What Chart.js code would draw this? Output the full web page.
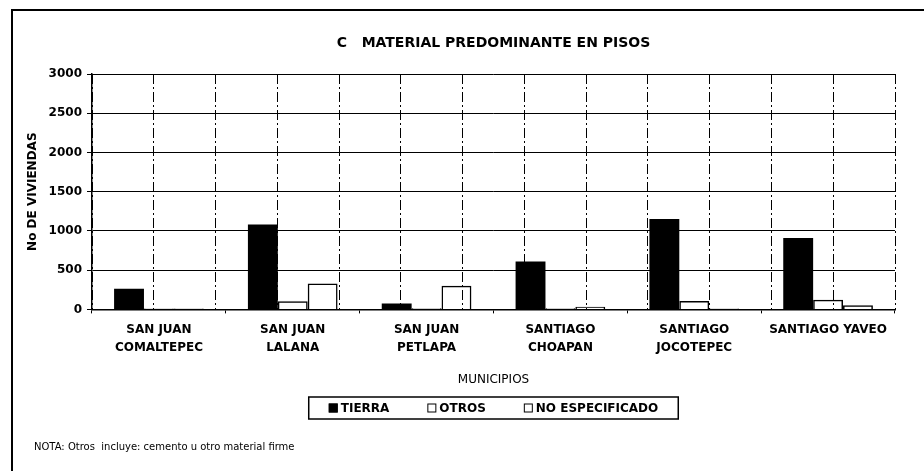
<!DOCTYPE html>
<html><head><meta charset="utf-8">
<script src="https://cdn.jsdelivr.net/npm/chart.js@4.4.1/dist/chart.umd.min.js"></script>
<style>html,body{margin:0;padding:0;background:#fff}#wrap{width:924px;height:471px;position:relative}</style>
</head><body><div id="wrap"><canvas id="c" width="924" height="471"></canvas></div>
<script>
const categories = [["SAN JUAN","COMALTEPEC"],["SAN JUAN","LALANA"],["SAN JUAN","PETLAPA"],["SANTIAGO","CHOAPAN"],["SANTIAGO","JOCOTEPEC"],["SANTIAGO YAVEO"]];
const tierra = [264, 1083, 74, 611, 1152, 909];
const otros = [10, 103, 15, 16, 107, 123];
const noEspecificado = [12, 330, 302, 33, 12, 53];
const yTicks = [0, 500, 1000, 1500, 2000, 2500, 3000];
const seriesNames = ["TIERRA", "OTROS", "NO ESPECIFICADO"];
const titleText = "C   MATERIAL PREDOMINANTE EN PISOS";
const xTitle = "MUNICIPIOS";
const yTitle = "No DE VIVIENDAS";
const noteText = "NOTA: Otros  incluye: cemento u otro material firme";

const FONT = "'DejaVu Sans', sans-serif";

const extras = {
  id: 'extras',
  afterDraw(chart) {
    const ctx = chart.ctx;
    const ca = chart.chartArea;
    ctx.save();
    ctx.strokeStyle = '#000';
    ctx.lineWidth = 2;
    ctx.beginPath();
    ctx.moveTo(924, 10); ctx.lineTo(12, 10); ctx.lineTo(12, 471);
    ctx.stroke();
    ctx.font = "bold 12px " + FONT;
    ctx.textBaseline = 'middle';
    const box = 9, gapBoxText = 3, gapItems = 38, padX = 20;
    const items = chart.data.datasets.map(d => ({
      text: d.label, fill: d.legendFill, w: box + gapBoxText + ctx.measureText(d.label).width
    }));
    const inner = items.reduce((a, it) => a + it.w, 0) + gapItems * (items.length - 1);
    const total = inner + padX * 2;
    const cx = (ca.left + ca.right) / 2;
    const lx = cx - total / 2, ly = 397, lh = 22;
    ctx.lineWidth = 1.5;
    ctx.strokeRect(lx, ly, total, lh);
    let x = lx + padX;
    const cy = ly + lh / 2;
    items.forEach(it => {
      ctx.fillStyle = it.fill;
      ctx.fillRect(x, cy - box / 2, box, box);
      ctx.lineWidth = 1;
      ctx.strokeRect(x + 0.5, cy - box / 2 + 0.5, box - 1, box - 1);
      ctx.fillStyle = '#000';
      ctx.textAlign = 'left';
      ctx.fillText(it.text, x + box + gapBoxText, cy + 0.5);
      x += it.w + gapItems;
    });
    ctx.font = "10px " + FONT;
    ctx.fillText(noteText, 34, 447);
    ctx.restore();
  }
};

new Chart(document.getElementById('c'), {
  type: 'bar',
  data: {
    labels: categories,
    datasets: [
      { label: seriesNames[0], data: tierra, backgroundColor: '#000', borderColor: '#000', borderWidth: 0, legendFill: '#000' },
      { label: seriesNames[1], data: otros, backgroundColor: 'rgba(255,255,255,0)', borderColor: '#000', borderWidth: 1.5, legendFill: '#fff' },
      { label: seriesNames[2], data: noEspecificado, backgroundColor: 'rgba(255,255,255,0)', borderColor: '#000', borderWidth: 1.5, legendFill: '#fff' }
    ]
  },
  options: {
    responsive: false,
    animation: false,
    devicePixelRatio: 1,
    categoryPercentage: 0.67,
    barPercentage: 1.0,
    layout: { padding: { top: 20, left: 12, right: 29, bottom: 81.8 } },
    plugins: {
      legend: { display: false },
      tooltip: { enabled: false },
      title: {
        display: true, text: titleText, color: '#000', fullSize: false,
        font: { family: FONT, size: 14, weight: 'bold' },
        padding: { top: 14.6, bottom: 22.6 }
      }
    },
    scales: {
      x: {
        type: 'category',
        offset: true,
        grid: { drawOnChartArea: false, drawTicks: true, tickLength: 4, color: '#000', lineWidth: 1 },
        border: { display: true, color: '#000', width: 1.5 },
        ticks: { color: '#000', font: { family: FONT, size: 12, weight: 'bold', lineHeight: 1.5 }, padding: 7, maxRotation: 0, autoSkip: false },
        title: { display: true, text: xTitle, color: '#000', font: { family: FONT, size: 12 }, padding: { top: 9.4, bottom: 2 } }
      },
      xg: {
        type: 'linear', position: 'bottom', min: 0, max: 12,
        afterBuildTicks: s => { s.ticks = Array.from({ length: 13 }, (_, i) => ({ value: i })); },
        ticks: { display: false },
        grid: { drawTicks: false, color: '#000', lineWidth: 1 },
        border: { display: false, dash: [10, 3, 2, 3] }
      },
      y: {
        min: 0, max: 3000,
        afterBuildTicks: s => { s.ticks = yTicks.map(v => ({ value: v })); },
        afterFit: s => { s.width = 80; },
        grid: { color: '#000', lineWidth: 1, tickLength: 5 },
        border: { display: true, color: '#000', width: 1.5 },
        ticks: { color: '#000', font: { family: FONT, size: 12, weight: 'bold' }, padding: 5, callback: v => String(v) },
        title: { display: true, text: yTitle, color: '#000', font: { family: FONT, size: 12, weight: 'bold' }, padding: { top: 13.8, bottom: 0 } }
      }
    }
  },
  plugins: [extras]
});
</script>
</body></html>
